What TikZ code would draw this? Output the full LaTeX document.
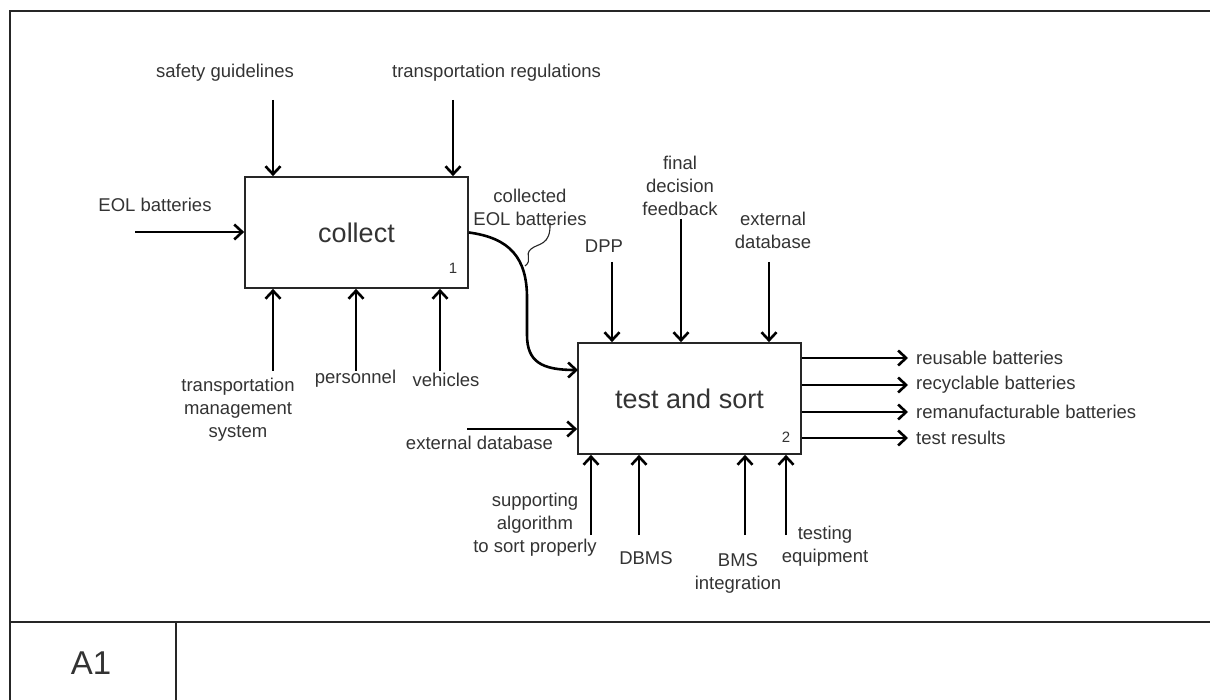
\documentclass[tikz,border=0pt]{standalone}
\usepackage{fontspec}
\setmainfont{Liberation Sans}
\usetikzlibrary{arrows.meta}
\begin{document}
\begin{tikzpicture}[x=1pt,y=-1pt,
  every node/.style={text=black!80, inner sep=0pt},
  lbl/.style={font=\fontsize{18.5}{23}\selectfont, align=center},
  func/.style={draw=black!85, line width=1.7pt, minimum width=223pt, minimum height=111pt, font=\fontsize{27}{32}\selectfont},
  num/.style={font=\fontsize{15}{18}\selectfont},
  flow/.style={line width=2.6pt, -{Straight Barb[length=8pt,width=15pt]}},
  frameline/.style={line width=2pt, draw=black!85}]
\useasboundingbox (0,0) rectangle (1210,700);

% outer frame and title row
\begin{scope}
\clip (0,0) rectangle (1210,700);
\draw[frameline] (10,720) -- (10,11) -- (1230,11);
\draw[frameline] (10,622) -- (1230,622);
\draw[frameline] (176,622) -- (176,720);
\end{scope}
\node[font=\fontsize{33}{38}\selectfont] (a1) at (91,663) {A1};

% activity boxes
\node[func] (collect) at (356.5,232.5) {collect};
\node[num] (n1) at (453,268) {1};
\node[func] (sort) at (689.5,398.5) {test and sort};
\node[num] (n2) at (786,437) {2};

% inputs and controls of "collect"
\node[lbl] (eol) at (155,205) {EOL batteries};
\coordinate (eolS) at (135,232);
\draw[flow] (eolS) -- (eolS -| collect.west);

\node[lbl] (safety) at (225,73) {safety guidelines};
\coordinate (safetyS) at (273,100);
\draw[flow] (safetyS) -- (safetyS |- collect.north);

\node[lbl] (regs) at (496.5,73) {transportation regulations};
\coordinate (regsS) at (453,100);
\draw[flow] (regsS) -- (regsS |- collect.north);

% mechanisms of "collect"
\node[lbl] (tms) at (238,410) {transportation\\management\\system};
\coordinate (tmsS) at (273,371);
\draw[flow] (tmsS) -- (tmsS |- collect.south);

\node[lbl] (pers) at (355.5,379) {personnel};
\coordinate (persS) at (356,371);
\draw[flow] (persS) -- (persS |- collect.south);

\node[lbl] (veh) at (446,380) {vehicles};
\coordinate (vehS) at (440,371);
\draw[flow] (vehS) -- (vehS |- collect.south);

% output of "collect" feeding "test and sort"
\node[lbl] (coll) at (530,207) {collected\\EOL batteries};
\coordinate (collIn) at (578,370);
\draw[flow] (collect.east) .. controls (510,238) and (527,258) .. (527,298)
  -- (527,335) .. controls (527,362) and (542,370) .. (collIn);
\draw[line width=1.1pt, draw=black!85] (550,223) .. controls (551,246) and (538,243) .. (531,249)
  .. controls (524,255) and (533,260) .. (525,266);

% controls of "test and sort"
\node[lbl] (dpp) at (604,246) {DPP};
\coordinate (dppS) at (612,262);
\draw[flow] (dppS) -- (dppS |- sort.north);

\node[lbl] (fdf) at (680,186) {final\\decision\\feedback};
\coordinate (fdfS) at (681,219);
\draw[flow] (fdfS) -- (fdfS |- sort.north);

\node[lbl] (extdb) at (773,230.5) {external\\database};
\coordinate (extdbS) at (769,262);
\draw[flow] (extdbS) -- (extdbS |- sort.north);

% second input of "test and sort"
\node[lbl] (extdb2) at (479.5,443) {external database};
\coordinate (extdb2S) at (467,429);
\draw[flow] (extdb2S) -- (extdb2S -| sort.west);

% mechanisms of "test and sort"
\node[lbl] (algo) at (535,525) {supporting\\algorithm\\to sort properly};
\coordinate (algoS) at (591,535);
\draw[flow] (algoS) -- (algoS |- sort.south);

\node[lbl] (dbms) at (646,558) {DBMS};
\coordinate (dbmsS) at (639,535);
\draw[flow] (dbmsS) -- (dbmsS |- sort.south);

\node[lbl] (bms) at (738,573.5) {BMS\\integration};
\coordinate (bmsS) at (745,535);
\draw[flow] (bmsS) -- (bmsS |- sort.south);

\node[lbl] (teq) at (825,546) {testing\\equipment};
\coordinate (teqS) at (786,535);
\draw[flow] (teqS) -- (teqS |- sort.south);

% outputs of "test and sort"
\coordinate (o1) at (908,358);
\coordinate (o2) at (908,385);
\coordinate (o3) at (908,412);
\coordinate (o4) at (908,438);
\draw[flow] (o1 -| sort.east) -- (o1);
\draw[flow] (o2 -| sort.east) -- (o2);
\draw[flow] (o3 -| sort.east) -- (o3);
\draw[flow] (o4 -| sort.east) -- (o4);
\node[lbl, anchor=west] (r1) at (916,358) {reusable batteries};
\node[lbl, anchor=west] (r2) at (916,385) {recyclable batteries};
\node[lbl, anchor=west] (r3) at (916,412) {remanufacturable batteries};
\node[lbl, anchor=west] (r4) at (916,438) {test results};
\end{tikzpicture}
\end{document}
